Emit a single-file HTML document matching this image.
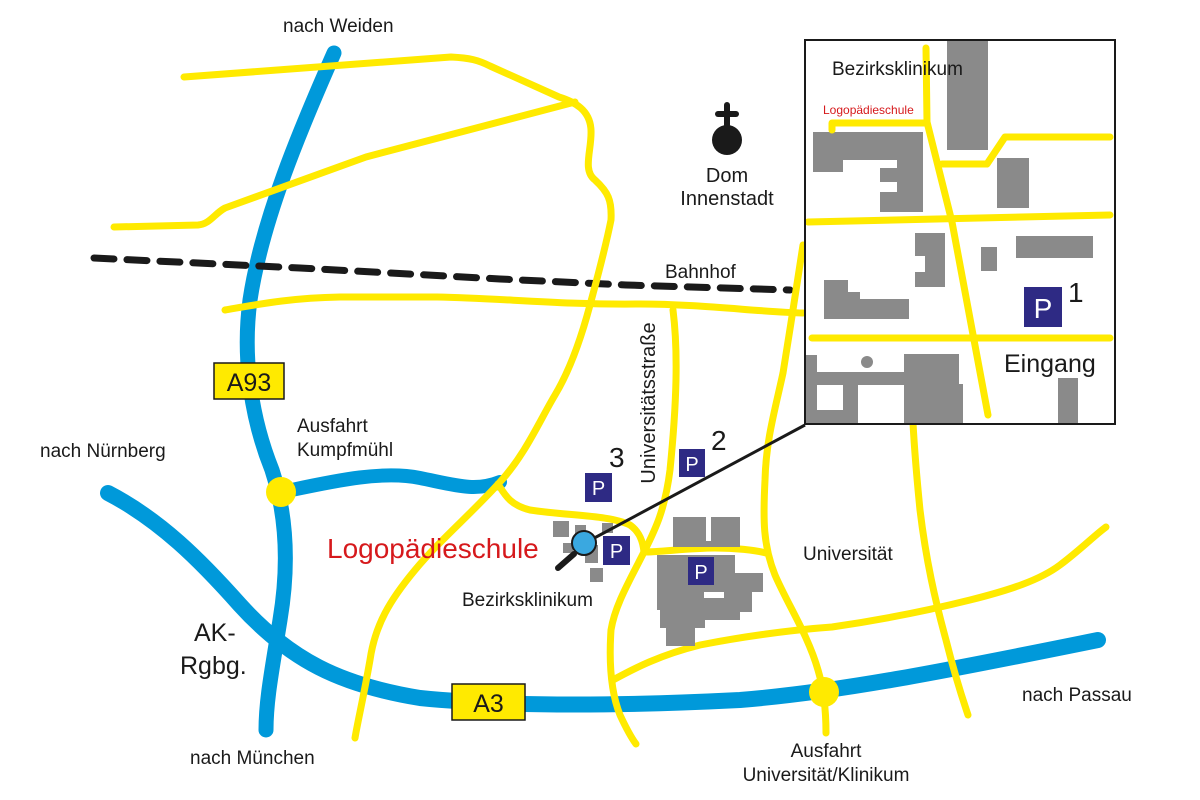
<!DOCTYPE html>
<html><head><meta charset="utf-8"><style>
html,body{margin:0;padding:0;background:#fff;}
svg{display:block;}
text{font-family:"Liberation Sans",sans-serif;fill:#1a1a1a;}
</style></head><body>
<svg width="1200" height="800" viewBox="0 0 1200 800" xmlns="http://www.w3.org/2000/svg">
<rect width="1200" height="800" fill="#fff"/>
<g fill="none" stroke-linecap="round" stroke-linejoin="round">
<path d="M334,53 C300,130 262,220 250,300 C242,360 252,420 272,470 C285,510 290,560 280,620 C272,670 266,700 266,730" stroke="#0099da" stroke-width="15"/>
<path d="M108,493 C160,520 200,560 240,605 C290,660 340,685 420,698 C520,708 640,705 740,700 C840,692 950,670 1098,640" stroke="#0099da" stroke-width="16"/>
<path d="M282,492 C330,482 380,470 420,478 C455,485 475,492 500,482" stroke="#0099da" stroke-width="14"/>
<path d="M94,258 L300,268 L500,279 L626,285 L790,290" stroke="#1a1a1a" stroke-width="7" stroke-dasharray="20,13"/>
<g stroke="#ffea00" stroke-width="7">
<path d="M184,77 L451,57 C470,58 478,60 490,66 L559,97 C575,102 590,110 591,130 C592,150 582,170 595,180 C608,192 612,200 611,220 C605,250 598,275 590,305 C582,335 570,370 555,395 C540,420 525,455 500,482 C470,515 440,540 415,570 C390,600 375,625 370,660 C363,700 358,720 355,738"/>
<path d="M114,227 L198,225 C210,224 214,214 225,208 L366,157 L575,102"/>
<path d="M225,310 C260,304 290,298 340,297 L437,297 C500,298 560,305 640,304 C700,304 760,312 803,313"/>
<path d="M673,310 C678,350 677,400 670,470 C665,510 655,530 645,550 C630,580 615,605 611,630 C609,660 610,690 620,715 C627,730 633,740 636,744"/>
<path d="M803,245 C796,290 790,330 783,373 C775,410 766,440 765,480 C763,520 763,545 775,575 C788,605 808,635 818,670 C824,690 826,710 826,733"/>
<path d="M613,680 C635,668 660,655 700,645 C740,637 790,630 832,627 C880,620 930,610 970,600 C1010,590 1040,580 1060,565 C1080,550 1095,535 1106,527"/>
<path d="M913,423 C915,460 917,480 920,510 C926,560 935,600 946,640 C956,680 963,700 968,715"/>
<path d="M498,484 C505,495 510,505 530,510 C570,516 610,515 630,525 C640,532 643,542 644,552 C660,552 690,548 715,548 C735,548 755,550 766,553"/>
</g>
</g>
<circle cx="281" cy="492" r="15" fill="#ffea00"/>
<circle cx="824" cy="692" r="15" fill="#ffea00"/>
<g fill="#8a8a8a">
<rect x="553" y="521" width="16" height="16"/>
<rect x="575" y="525" width="11" height="9"/>
<rect x="602" y="523" width="11" height="10"/>
<rect x="563" y="543" width="10" height="10"/>
<rect x="585" y="545" width="13" height="18"/>
<rect x="590" y="568" width="13" height="14"/>
<path d="M673,517 H706 V541 H711 V517 H740 V547 H673 Z"/>
<rect x="657" y="555" width="78" height="55"/>
<rect x="735" y="573" width="28" height="19"/>
<rect x="730" y="590" width="22" height="22"/>
<rect x="700" y="608" width="40" height="12"/>
<rect x="660" y="605" width="45" height="23"/>
<rect x="666" y="626" width="29" height="20"/>
</g>
<rect x="704" y="592" width="20" height="6" fill="#fff"/>
<g fill="#2e2a84">
<rect x="585" y="473" width="27" height="29"/>
<rect x="679" y="449" width="26" height="28"/>
<rect x="603" y="536" width="27" height="29"/>
<rect x="688" y="557" width="26" height="28"/>
</g>
<g font-size="20" text-anchor="middle">
<text x="598.5" y="495" style="fill:#fff">P</text>
<text x="692" y="471" style="fill:#fff">P</text>
<text x="616.5" y="558" style="fill:#fff">P</text>
<text x="701" y="579" style="fill:#fff">P</text>
</g>
<line x1="585" y1="543" x2="805" y2="425" stroke="#1a1a1a" stroke-width="3"/>
<line x1="574" y1="554" x2="558" y2="568" stroke="#1a1a1a" stroke-width="6" stroke-linecap="round"/>
<circle cx="584" cy="543" r="12" fill="#3aa8e0" stroke="#1a1a1a" stroke-width="2"/>
<circle cx="727" cy="140" r="15" fill="#1a1a1a"/>
<line x1="727" y1="105" x2="727" y2="125" stroke="#1a1a1a" stroke-width="6" stroke-linecap="round"/>
<line x1="718" y1="114" x2="736" y2="114" stroke="#1a1a1a" stroke-width="6" stroke-linecap="round"/>
<!-- inset -->
<rect x="805" y="40" width="310" height="384" fill="#fff" stroke="#1a1a1a" stroke-width="2"/>
<g fill="#8a8a8a">
<rect x="947" y="40" width="41" height="110"/>
<path d="M813,132 H923 V212 H880 V192 H897 V182 H880 V168 H897 V160 H843 V172 H813 Z"/>
<rect x="997" y="158" width="32" height="50"/>
<path d="M915,233 H945 V287 H915 V272 H925 V256 H915 Z"/>
<rect x="981" y="247" width="16" height="24"/>
<rect x="1016" y="236" width="77" height="22"/>
<path d="M824,280 H848 V292 H860 V299 H909 V319 H824 Z"/>
<rect x="904" y="354" width="55" height="69"/>
<rect x="955" y="384" width="8" height="39"/>
<circle cx="867" cy="362" r="6"/>
<rect x="806" y="355" width="11" height="68"/>
<rect x="817" y="372" width="90" height="13"/>
<rect x="843" y="372" width="15" height="51"/>
<rect x="817" y="410" width="30" height="13"/>
<rect x="1058" y="378" width="20" height="45"/>
</g>
<g fill="none" stroke="#ffea00" stroke-width="7" stroke-linecap="round" stroke-linejoin="round">
<path d="M926,48 L927,122 L952,222 L988,415"/>
<path d="M832,130 V123 H925"/>
<path d="M942,164 H987 L1005,137 H1110"/>
<path d="M808,222 L1110,215"/>
<path d="M812,338 L1110,338"/>
</g>
<rect x="1024" y="287" width="38" height="40" fill="#2e2a84"/>
<text x="1043" y="318" font-size="28" text-anchor="middle" style="fill:#fff">P</text>
<rect x="805" y="40" width="310" height="384" fill="none" stroke="#1a1a1a" stroke-width="2"/>
<text x="832" y="75" font-size="19">Bezirksklinikum</text>
<text x="823" y="114" font-size="12" style="fill:#d6191c">Logopädieschule</text>
<text x="1068" y="302" font-size="28">1</text>
<text x="1004" y="372" font-size="25">Eingang</text>
<rect x="214" y="363" width="70" height="36" fill="#ffea00" stroke="#1a1a1a" stroke-width="1.5"/>
<text x="249" y="391" font-size="25" text-anchor="middle">A93</text>
<rect x="452" y="684" width="73" height="36" fill="#ffea00" stroke="#1a1a1a" stroke-width="1.5"/>
<text x="488.5" y="712" font-size="25" text-anchor="middle">A3</text>
<text x="283" y="32" font-size="19">nach Weiden</text>
<text x="727" y="182" font-size="20" text-anchor="middle">Dom</text>
<text x="727" y="205" font-size="20" text-anchor="middle">Innenstadt</text>
<text x="665" y="278" font-size="19">Bahnhof</text>
<text x="297" y="432" font-size="19">Ausfahrt</text>
<text x="297" y="456" font-size="19">Kumpfmühl</text>
<text x="40" y="457" font-size="19">nach Nürnberg</text>
<text x="327" y="558" font-size="28" style="fill:#d6191c">Logopädieschule</text>
<text x="462" y="606" font-size="19">Bezirksklinikum</text>
<text x="803" y="560" font-size="19">Universität</text>
<text x="194" y="641" font-size="25">AK-</text>
<text x="180" y="674" font-size="25">Rgbg.</text>
<text x="190" y="764" font-size="19">nach München</text>
<text x="826" y="757" font-size="19" text-anchor="middle">Ausfahrt</text>
<text x="826" y="781" font-size="19" text-anchor="middle">Universität/Klinikum</text>
<text x="1022" y="701" font-size="19">nach Passau</text>
<text x="609" y="467" font-size="28">3</text>
<text x="711" y="450" font-size="28">2</text>
<text transform="translate(655,403) rotate(-90)" font-size="20" text-anchor="middle">Universitätsstraße</text>
</svg>
</body></html>
